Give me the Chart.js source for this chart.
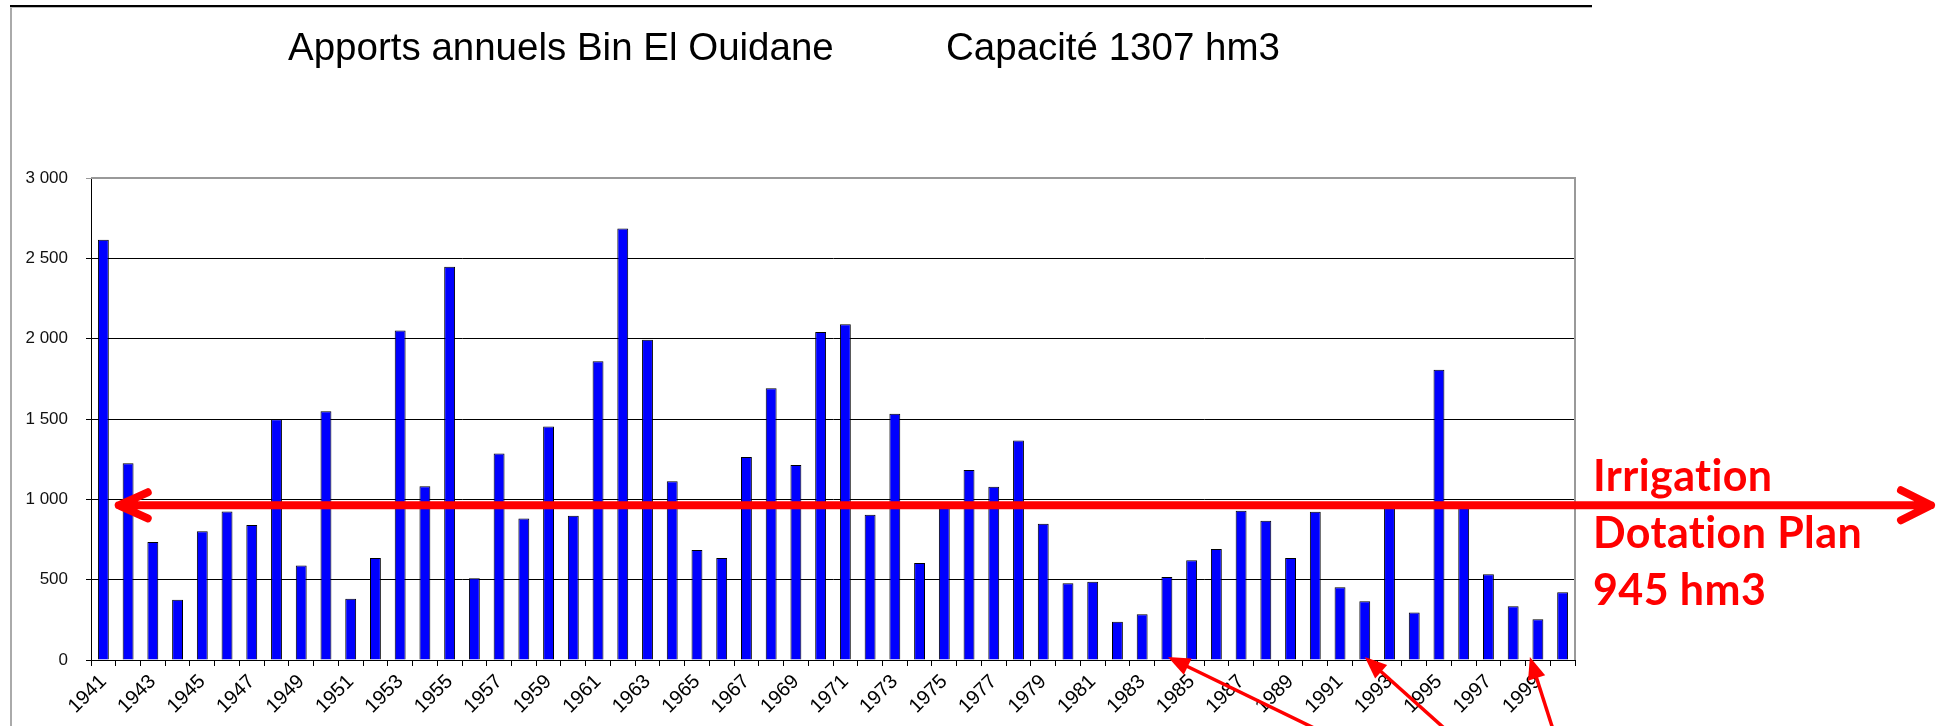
<!DOCTYPE html>
<html>
<head>
<meta charset="utf-8">
<script src="https://cdn.jsdelivr.net/npm/chart.js@4.4.0/dist/chart.umd.min.js"></script>
<style>
html, body { margin: 0; padding: 0; background: #fff; }
#wrap { width: 1937px; height: 726px; position: relative; }
</style>
</head>
<body>
<div id="wrap"><canvas id="chart"></canvas></div>
<script>
// annual inflows, hm3
var years = ["1941","1942","1943","1944","1945","1946","1947","1948","1949","1950",
             "1951","1952","1953","1954","1955","1956","1957","1958","1959","1960",
             "1961","1962","1963","1964","1965","1966","1967","1968","1969","1970",
             "1971","1972","1973","1974","1975","1976","1977","1978","1979","1980",
             "1981","1982","1983","1984","1985","1986","1987","1988","1989","1990",
             "1991","1992","1993","1994","1995","1996","1997","1998","1999","2000"];
var apports = [2615, 1225, 734, 375, 801, 924, 841, 1499, 588, 1548,
               381, 635, 2051, 1082, 2448, 509, 1286, 880, 1454, 898,
               1860, 2686, 1993, 1113, 684, 635, 1263, 1692, 1214, 2042,
               2089, 904, 1533, 604, 960, 1182, 1079, 1366, 848, 478,
               487, 238, 285, 516, 621, 691, 929, 866, 635, 922,
               453, 366, 960, 296, 1806, 960, 534, 334, 254, 422];
var yTicks = [0, 500, 1000, 1500, 2000, 2500, 3000];
var titleLeft = "Apports annuels Bin El Ouidane";
var titleRight = "Capacité 1307 hm3";
var dotationLevel = 963;
var dotationText = ["Irrigation", "Dotation Plan", "945 hm3"];
var pointedYears = ["1984", "1992", "1999"];

function fmt(v)
{
  if (v < 1000) return String(v);
  var r = String(v % 1000);
  while (r.length < 3) r = "0" + r;
  return Math.floor(v / 1000) + " " + r;
}

function arrowHead(ctx, x, y, ang, len, half)
{
  ctx.beginPath();
  ctx.moveTo(x, y);
  ctx.lineTo(x + Math.cos(ang) * len - Math.sin(ang) * half, y + Math.sin(ang) * len + Math.cos(ang) * half);
  ctx.lineTo(x + Math.cos(ang) * len + Math.sin(ang) * half, y + Math.sin(ang) * len - Math.cos(ang) * half);
  ctx.closePath();
  ctx.fill();
}

var decor = {
  id: 'decor',
  beforeDraw: function (chart) {
    var ctx = chart.ctx;
    ctx.save();
    ctx.fillStyle = '#fff';
    ctx.fillRect(0, 0, chart.width, chart.height);
    // outer frame of the pasted chart
    ctx.fillStyle = '#aaa';
    ctx.fillRect(10, 6, 2, chart.height - 6);
    ctx.fillStyle = '#000';
    ctx.fillRect(10, 5, 1582, 2);
    ctx.fillStyle = '#bbb';
    ctx.fillRect(10, 7, 1582, 1);
    // title
    ctx.fillStyle = '#000';
    ctx.font = '38.5px "Liberation Sans", Arial, sans-serif';
    ctx.textBaseline = 'alphabetic';
    ctx.textAlign = 'left';
    ctx.fillText(titleLeft, 288, 60);
    ctx.fillText(titleRight, 946, 60);
    ctx.restore();
  },
  afterDraw: function (chart) {
    var ctx = chart.ctx, a = chart.chartArea;
    var xs = chart.scales.x, ys = chart.scales.y;
    ctx.save();
    // plot border top/right
    ctx.strokeStyle = '#999';
    ctx.lineWidth = 2;
    ctx.beginPath();
    ctx.moveTo(a.left, a.top);
    ctx.lineTo(a.right, a.top);
    ctx.lineTo(a.right, a.bottom);
    ctx.stroke();

    // irrigation dotation line
    var yl = ys.getPixelForValue(dotationLevel);
    var x0 = (xs.getPixelForValue(0) + xs.getPixelForValue(1)) / 2 + 3;
    var x1 = chart.width - 6;
    ctx.strokeStyle = '#ff0000';
    ctx.lineWidth = 8;
    ctx.lineCap = 'round';
    ctx.lineJoin = 'round';
    ctx.beginPath();
    ctx.moveTo(x0, yl);
    ctx.lineTo(x1, yl);
    ctx.moveTo(x0 + 29, yl - 13);
    ctx.lineTo(x0, yl);
    ctx.lineTo(x0 + 29, yl + 13);
    ctx.moveTo(x1 - 30, yl - 15);
    ctx.lineTo(x1, yl);
    ctx.lineTo(x1 - 30, yl + 15);
    ctx.stroke();

    ctx.fillStyle = '#ff0000';
    ctx.font = 'bold 43px Lato, "Open Sans", sans-serif';
    ctx.letterSpacing = '0.4px';
    ctx.textAlign = 'left';
    ctx.textBaseline = 'alphabetic';
    for (var i = 0; i < dotationText.length; i++) {
      ctx.fillText(dotationText[i], a.right + 18, yl - 14 + i * 57);
    }
    ctx.letterSpacing = '0px';

    // arrows to the dry years
    var dirs = [[142, 69], [77, 69], [22, 69]];
    var shift = [1, 0, -8];
    ctx.lineWidth = 3.5;
    ctx.lineCap = 'butt';
    for (var k = 0; k < pointedYears.length; k++) {
      var idx = years.indexOf(pointedYears[k]);
      var tx = xs.getPixelForValue(idx) + shift[k];
      var ty = a.bottom - 3;
      var ang = Math.atan2(dirs[k][1], dirs[k][0]);
      ctx.beginPath();
      ctx.moveTo(tx + Math.cos(ang) * 12, ty + Math.sin(ang) * 12);
      ctx.lineTo(tx + Math.cos(ang) * 400, ty + Math.sin(ang) * 400);
      ctx.stroke();
      arrowHead(ctx, tx, ty, ang, 22, 9);
    }
    ctx.restore();
  }
};

var chart = new Chart(document.getElementById('chart'), {
  type: 'bar',
  data: {
    labels: years,
    datasets: [{
      label: 'Apports',
      data: apports,
      backgroundColor: '#0000ff',
      borderColor: '#000',
      borderWidth: 1,
      barPercentage: 0.44,
      categoryPercentage: 1.0
    }]
  },
  options: {
    responsive: true,
    maintainAspectRatio: false,
    animation: false,
    layout: { padding: { left: 0, top: 178, right: 362, bottom: 0 } },
    plugins: {
      legend: { display: false },
      tooltip: { enabled: false },
      title: { display: false }
    },
    scales: {
      x: {
        grid: { display: true, drawOnChartArea: false, color: '#000', tickLength: 6, offset: true },
        border: { color: '#000', width: 1 },
        ticks: {
          color: '#000',
          font: { family: '"Liberation Sans", Arial, sans-serif', size: 20 },
          minRotation: 45,
          maxRotation: 45,
          autoSkip: false,
          padding: 4,
          callback: function (v, i) { return i % 2 === 0 ? years[i] : ''; }
        },
        afterFit: function (s) { s.height = 66; }
      },
      y: {
        min: 0,
        max: 3000,
        afterBuildTicks: function (s) { s.ticks = yTicks.map(function (v) { return { value: v }; }); },
        grid: {
          color: function (c) { return c.tick && c.tick.value === 3000 ? '#999' : '#000'; },
          lineWidth: 1,
          tickLength: 5
        },
        border: { color: '#000', width: 1 },
        ticks: {
          color: '#111',
          font: { family: '"Liberation Sans", Arial, sans-serif', size: 17 },
          padding: 18,
          callback: function (v) { return fmt(v); }
        },
        afterFit: function (s) { s.width = 91; }
      }
    }
  },
  plugins: [decor]
});
</script>
</body>
</html>
